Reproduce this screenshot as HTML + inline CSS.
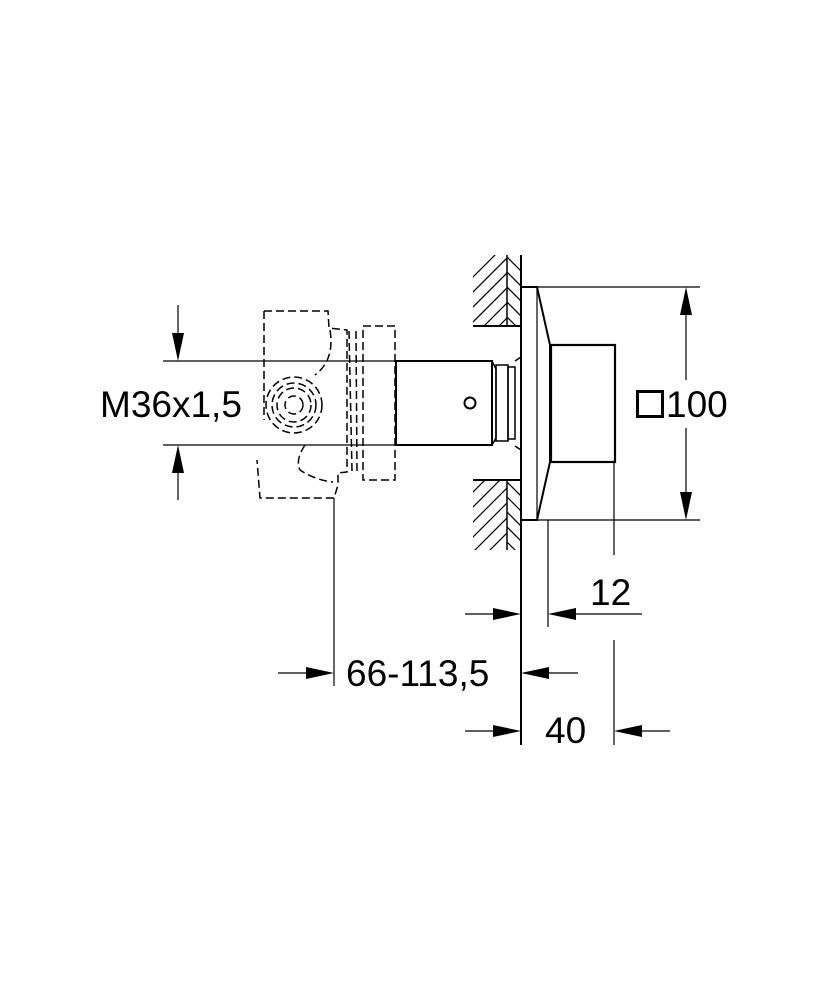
<!DOCTYPE html>
<html><head><meta charset="utf-8"><style>
html,body{margin:0;padding:0;background:#fff;}
svg{display:block;}
text{font-family:"Liberation Sans",Arial,sans-serif;font-size:37px;fill:#000;}
</style></head><body>
<svg width="833" height="1000" viewBox="0 0 833 1000" xmlns="http://www.w3.org/2000/svg">
<defs>
<clipPath id="wt"><rect x="473" y="255" width="34" height="71"/></clipPath>
<clipPath id="wb"><rect x="473" y="480" width="34" height="70"/></clipPath>
<clipPath id="wt2"><rect x="507" y="255" width="14" height="71"/></clipPath>
<clipPath id="wb2"><rect x="507" y="480" width="14" height="70"/></clipPath>
</defs>
<g stroke="#000" fill="none">
<!-- wall hatch -->
<g stroke-width="1.2" clip-path="url(#wt)">
<path d="M440,340 L520,260 M440,325 L520,245 M440,355 L520,275 M440,370 L520,290 M440,385 L520,305 M440,400 L520,320 M440,310 L520,230"/>
</g>
<g stroke-width="1.2" clip-path="url(#wb)">
<path d="M440,495 L520,415 M440,510 L520,430 M440,525 L520,445 M440,540 L520,460 M440,555 L520,475 M440,570 L520,490 M440,585 L520,505 M440,600 L520,520"/>
</g>
<g stroke-width="1.2" clip-path="url(#wt2)">
<path d="M500,250 L530,280 M500,265 L530,295 M500,280 L530,310 M500,295 L530,325 M500,310 L530,340"/>
</g>
<g stroke-width="1.2" clip-path="url(#wb2)">
<path d="M500,475 L530,505 M500,490 L530,520 M500,505 L530,535 M500,520 L530,550 M500,535 L530,565"/>
</g>
<line x1="507" y1="255" x2="507" y2="326" stroke-width="1.5"/>
<line x1="507" y1="480" x2="507" y2="550" stroke-width="1.5"/>
<line x1="473" y1="326" x2="521" y2="326" stroke-width="2"/>
<line x1="473" y1="480" x2="521" y2="480" stroke-width="2"/>
<line x1="521" y1="255" x2="521" y2="745" stroke-width="2"/>
<!-- plate -->
<path d="M521,287 L537,287 L550,345 L550,462 L537,520 L521,520" stroke-width="2"/>
<line x1="537" y1="287" x2="537" y2="520" stroke-width="1.2"/>
<line x1="537" y1="287" x2="700" y2="287" stroke-width="1.2"/>
<line x1="537" y1="520" x2="700" y2="520" stroke-width="1.2"/>
<!-- knob -->
<rect x="551" y="345" width="64" height="117" stroke-width="2.2"/>
<!-- shaft -->
<rect x="396" y="361" width="96" height="84" stroke-width="2"/>
<path d="M492,361 L496,369 L496,438 L492,445" stroke-width="1.5"/>
<rect x="496" y="365" width="12" height="76" stroke-width="1.5"/>
<rect x="508" y="367" width="7" height="72" stroke-width="1.5"/>
<path d="M515,361 L521,357 L521,450 L515,446" stroke-width="1.5"/>
<circle cx="470" cy="403" r="5.5" stroke-width="2"/>
<!-- center lines -->
<line x1="163" y1="361" x2="396" y2="361" stroke-width="1.2"/>
<line x1="163" y1="445" x2="396" y2="445" stroke-width="1.2"/>
<!-- dashed valve body -->
<g stroke-width="1.5" stroke-dasharray="8,4">
<path d="M264,311 L328,311 L329,328 L347,330 L347,472 L338,473 L338,485 L334,498 L260,498 L257,460"/>
<path d="M264,311 L264,420"/>
<path d="M349,331 L352,471"/>
<path d="M356,331 L357,471"/>
<path d="M363,326 L395,326 L395,480 L363,480 L363,326"/>
<circle cx="294" cy="405" r="28"/>
<circle cx="294" cy="405" r="22"/>
<circle cx="294" cy="405" r="17"/>
<circle cx="294" cy="405" r="9"/>
<path d="M330,330 Q335,360 315,375"/>
<path d="M305,445 Q295,460 300,470 Q315,480 333,482"/>
</g>
<!-- extension lines -->
<line x1="334" y1="498" x2="334" y2="686" stroke-width="1.2"/>
<line x1="548" y1="520" x2="548" y2="627" stroke-width="1.2"/>
<line x1="614" y1="462" x2="614" y2="555" stroke-width="1.2"/>
<line x1="614" y1="640" x2="614" y2="745" stroke-width="1.2"/>
<!-- dims -->
<g stroke-width="1.2">
<line x1="178" y1="305" x2="178" y2="340"/>
<line x1="178" y1="466" x2="178" y2="500"/>
<line x1="686" y1="300" x2="686" y2="380"/>
<line x1="686" y1="428" x2="686" y2="508"/>
<line x1="465" y1="614" x2="500" y2="614"/>
<line x1="570" y1="614" x2="642" y2="614"/>
<line x1="278" y1="673" x2="312" y2="673"/>
<line x1="543" y1="673" x2="578" y2="673"/>
<line x1="465" y1="731" x2="500" y2="731"/>
<line x1="636" y1="731" x2="670" y2="731"/>
</g>
</g>
<g fill="#000">
<polygon points="178,361 172,333 184,333"/>
<polygon points="178,445 172,473 184,473"/>
<polygon points="686,287 680,315 692,315"/>
<polygon points="686,520 680,492 692,492"/>
<polygon points="521,614 493,608 493,620"/>
<polygon points="548,614 576,608 576,620"/>
<polygon points="334,673 306,667 306,679"/>
<polygon points="521,673 549,667 549,679"/>
<polygon points="521,731 493,725 493,737"/>
<polygon points="614,731 642,725 642,737"/>
</g>
<rect x="637.5" y="391.5" width="25" height="25" fill="none" stroke="#000" stroke-width="3"/>
<text x="666" y="417">100</text>
<text x="100" y="417">M36x1,5</text>
<text x="590" y="605">12</text>
<text x="346" y="686">66-113,5</text>
<text x="545" y="743">40</text>
</svg>
</body></html>
